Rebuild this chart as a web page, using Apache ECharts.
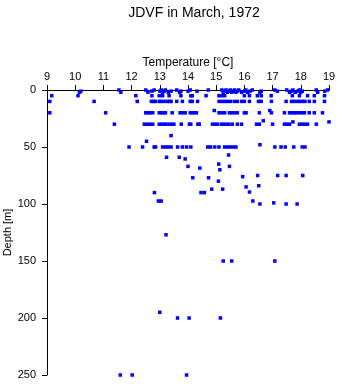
<!DOCTYPE html>
<html lang="en">
<head>
    <meta charset="UTF-8">
    <title>JDVF in March, 1972</title>
    <script src="https://cdn.jsdelivr.net/npm/echarts@6/dist/echarts.min.js"></script>
    <style>
        html, body { margin: 0; padding: 0; background: #fff; }
        #chart1 { width: 341px; height: 384px; }
    </style>
</head>
<body>
<div id="chart1"></div>
<script>
    // temperature readings (°C) at each standard depth (m)
    var t0 = [10.15, 10.2, 11.55, 11.62, 12.5, 12.58, 12.72, 12.8, 13.0, 13.05, 13.1, 13.15, 13.2, 13.3, 13.4,
        13.6, 13.7, 13.75, 14.0, 14.08, 14.32, 14.72, 15.2, 15.25, 15.3, 15.35, 15.4, 15.45, 15.5, 15.55, 15.6,
        15.65, 15.7, 15.75, 15.8, 15.9, 16.0, 16.05, 16.12, 16.2, 16.28, 16.55, 16.6, 17.08, 17.17, 17.5, 17.6,
        17.67, 17.72, 17.8, 17.9, 17.95, 18.0, 18.05, 18.55, 18.6, 18.85, 18.95];
    var d0 = [2, 1, 0, 2, 0, 2, 1, 0, 1, 0, 2, 1, 0, 2, 1,
        0, 2, 1, 1, 0, 1, 0, 0, 2, 1, 0, 2, 1, 0, 2, 1,
        0, 2, 1, 0, 2, 1, 0, 2, 1, 0, 2, 1, 0, 1, 0, 2,
        1, 0, 2, 1, 0, 2, 1, 0, 2, 1, 0];
    var t5 = [9.17, 10.1, 12.15, 12.72, 12.98, 13.1, 13.33, 13.75, 14.1, 14.15, 14.64, 15.1, 15.2, 15.3,
        16.0, 16.18, 16.46, 16.6, 16.95, 17.7, 17.95, 18.24, 18.48, 18.84];
    var t10 = [9.1, 10.67, 12.2, 12.7, 12.78, 12.84, 12.98, 13.05, 13.15, 13.27, 13.35, 13.4, 13.6, 13.8, 14.08,
        14.15, 14.34, 15.1, 15.2, 15.3, 15.4, 15.5, 15.64, 15.75, 15.9, 16.0, 16.18, 16.5, 16.6, 16.96, 17.48,
        17.67, 17.75, 17.85, 17.95, 18.05, 18.15, 18.3, 18.48, 18.84];
    var t20 = [9.1, 11.08, 12.5, 12.58, 12.65, 12.75, 12.98, 13.05, 13.12, 13.2, 13.44, 13.72, 13.8, 13.9, 14.08,
        14.15, 14.22, 14.3, 15.1, 15.2, 15.3, 15.47, 15.55, 15.65, 15.75, 16.0, 16.06, 16.53, 16.96, 17.42,
        17.6, 17.68, 17.77, 17.85, 17.95, 18.05, 18.13, 18.3, 18.48, 18.77];
    var t30 = [11.39, 12.45, 12.55, 12.65, 12.75, 12.98, 13.05, 13.15, 13.22, 13.33, 13.42, 13.5, 13.76, 14.05,
        14.1, 14.35, 14.4, 14.87, 14.95, 15.04, 15.18, 15.25, 15.35, 15.45, 15.57, 15.75, 15.9, 16.43, 16.53,
        17.0, 17.42, 17.5, 17.6, 17.95, 18.05, 18.15, 18.24, 18.55];
    var t50 = [11.91, 12.39, 12.8, 12.85, 13.1, 13.2, 13.3, 13.4, 13.63, 13.8, 13.95, 14.1, 14.7, 14.8, 14.95,
        15.1, 15.3, 15.4, 15.5, 15.6, 15.7, 17.08, 17.3, 17.45, 17.75, 18.05, 18.15];
    // odd depths: [temperature, depth]
    var others = [[14.93, 18], [16.9, 18], [16.67, 27], [17.72, 28], [19.0, 28], [13.4, 40], [12.53, 45],
        [16.55, 48], [15.44, 57], [13.24, 59], [13.69, 59], [13.9, 60.5], [15.09, 65], [14.0, 67],
        [15.47, 67], [14.42, 68.5], [15.13, 70], [16.47, 75], [17.18, 75], [17.48, 75], [18.07, 75],
        [15.94, 76], [14.17, 77], [14.73, 77], [15.08, 80], [16.51, 84], [16.06, 85], [14.84, 87],
        [15.23, 87], [16.18, 89.5], [14.46, 90], [14.58, 90], [12.81, 90], [12.95, 97.4], [13.05, 97.4],
        [16.3, 97.4], [17.04, 99], [16.55, 100], [17.48, 100], [17.87, 100], [13.22, 127],
        [15.25, 150], [15.55, 150], [17.08, 150], [13.0, 195], [13.63, 200], [14.04, 200], [15.15, 200],
        [11.6, 250], [12.02, 250], [13.95, 250]];

    var points = [];
    for (var i = 0; i < t0.length; i++) points.push([t0[i], d0[i]]);
    for (var i = 0; i < t5.length; i++) points.push([t5[i], 5]);
    for (var i = 0; i < t10.length; i++) points.push([t10[i], 10]);
    for (var i = 0; i < t20.length; i++) points.push([t20[i], 20]);
    for (var i = 0; i < t30.length; i++) points.push([t30[i], 30]);
    for (var i = 0; i < t50.length; i++) points.push([t50[i], 50]);
    for (var i = 0; i < others.length; i++) points.push(others[i]);

    var font = 'Liberation Sans, Arial, Helvetica, sans-serif';
    var myChart = echarts.init(document.getElementById('chart1'));
    var option = {
        animation: false,
        title: {
            text: 'JDVF in March, 1972',
            left: 189, top: 1, textAlign: 'center',
            textStyle: {fontFamily: font, fontSize: 14, fontWeight: 'normal', color: '#000'}
        },
        grid: {left: 47, top: 90, right: 12, bottom: 9, containLabel: false, outerBoundsMode: 'none'},
        xAxis: {
            type: 'value', position: 'top',
            min: 9, max: 19, interval: 1,
            name: 'Temperature [°C]', nameLocation: 'middle', nameGap: 21, nameMoveOverlap: false,
            nameTextStyle: {fontFamily: font, fontSize: 12, color: '#000'},
            axisLine: {show: true, onZero: false, lineStyle: {color: '#000', width: 1}},
            axisTick: {show: true, length: 5, lineStyle: {color: '#000'}},
            axisLabel: {fontFamily: font, fontSize: 11, color: '#000', margin: 8},
            splitLine: {show: false}
        },
        yAxis: {
            type: 'value', inverse: true,
            min: 0, max: 250, interval: 50,
            name: 'Depth [m]', nameLocation: 'middle', nameGap: 34, nameMoveOverlap: false,
            nameTextStyle: {fontFamily: font, fontSize: 11, color: '#000'},
            axisLine: {show: true, onZero: false, lineStyle: {color: '#000', width: 1}},
            axisTick: {show: true, length: 5, lineStyle: {color: '#000'}},
            axisLabel: {fontFamily: font, fontSize: 11, color: '#000', margin: 11},
            splitLine: {show: false}
        },
        series: [{
            type: 'scatter',
            symbol: 'rect',
            symbolSize: 3.5,
            itemStyle: {color: '#0000ff', opacity: 1},
            data: points
        }]
    };
    myChart.setOption(option);
</script>
</body>
</html>
